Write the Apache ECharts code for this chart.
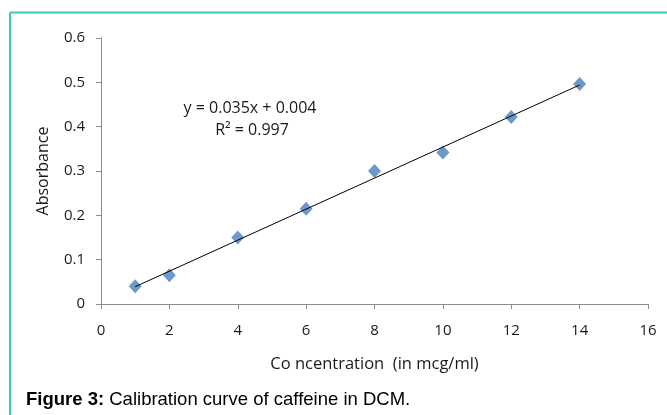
<!DOCTYPE html>
<html>
<head>
<meta charset="utf-8">
<script src="https://cdn.jsdelivr.net/npm/echarts@6/dist/echarts.min.js"></script>
<style>
html,body{margin:0;padding:0;background:#fff;}
#chart{width:667px;height:415px;}
</style>
</head>
<body>
<div id="chart"></div>
<script>
// Data
const concentration = [1, 2, 4, 6, 8, 10, 12, 14];
const absorbance = [0.040, 0.065, 0.150, 0.215, 0.300, 0.342, 0.422, 0.496];
const trendX = [1, 14];
const trendY = [0.039, 0.494];
const equationText = 'y = 0.035x + 0.004';
const r2Text = 'R\u00B2 = 0.997';
const xAxisTitle = 'Co ncentration  (in mcg/ml)';
const yAxisTitle = 'Absorbance';
const captionBold = 'Figure 3:';
const captionText = ' Calibration curve of caffeine in DCM.';

const chart = echarts.init(document.getElementById('chart'), null, {renderer: 'canvas'});
const font = '"Open Sans", Lato, sans-serif';
const axisColor = '#8c8c8c';
const textColor = '#1a1a1a';

const option = {
  animation: false,
  backgroundColor: '#ffffff',
  grid: {left: 101, right: 19, top: 38, bottom: 111, containLabel: false},
  xAxis: {
    type: 'value', min: 0, max: 16, interval: 2,
    name: xAxisTitle, nameLocation: 'middle', nameGap: 52,
    nameTextStyle: {fontFamily: font, fontSize: 16.5, color: textColor},
    axisLine: {lineStyle: {color: axisColor, width: 1}},
    axisTick: {show: true, inside: false, length: 5, lineStyle: {color: axisColor}},
    axisLabel: {margin: 19, fontFamily: font, fontSize: 15, color: textColor},
    splitLine: {show: false}
  },
  yAxis: {
    type: 'value', min: 0, max: 0.6, interval: 0.1,
    name: yAxisTitle, nameLocation: 'middle', nameGap: 50, nameRotate: 90,
    nameTextStyle: {fontFamily: font, fontSize: 16, color: textColor},
    axisLine: {show: true, lineStyle: {color: axisColor, width: 1}},
    axisTick: {show: true, inside: false, length: 5, lineStyle: {color: axisColor}},
    axisLabel: {margin: 16, fontFamily: font, fontSize: 15, color: textColor,
      formatter: v => (v === 0 ? '0' : v.toFixed(1))},
    splitLine: {show: false}
  },
  series: [
    {
      type: 'line', data: trendX.map((x, i) => [x, trendY[i]]),
      symbol: 'none', lineStyle: {color: '#000000', width: 1}, z: 3
    },
    {
      type: 'scatter', data: concentration.map((x, i) => [x, absorbance[i]]),
      symbol: 'diamond', symbolSize: [13, 14],
      itemStyle: {color: '#4a7ebb'}, z: 2
    }
  ],
  graphic: [
    {type: 'line', shape: {x1: 10, y1: 12.5, x2: 667, y2: 12.5}, style: {stroke: '#3ccbb3', lineWidth: 2}},
    {type: 'line', shape: {x1: 10, y1: 12.5, x2: 10, y2: 415}, style: {stroke: '#3ccbb3', lineWidth: 2}},
    {type: 'text', x: 250, y: 108, style: {text: equationText, fontFamily: font, fontSize: 16, fill: textColor, textAlign: 'center', textVerticalAlign: 'middle'}},
    {type: 'text', x: 252, y: 130, style: {text: r2Text, fontFamily: font, fontSize: 16, fill: textColor, textAlign: 'center', textVerticalAlign: 'middle'}},
    {type: 'text', x: 26, y: 400, style: {
      text: '{b|' + captionBold + '}{n|' + captionText + '}',
      textVerticalAlign: 'middle',
      rich: {
        b: {fontFamily: '"Liberation Sans", Arial, sans-serif', fontWeight: 'bold', fontSize: 18.5, color: '#333333'},
        n: {fontFamily: '"Liberation Sans", Arial, sans-serif', fontSize: 18.5, color: '#333333'}
      }
    }}
  ]
};
chart.setOption(option);
</script>
</body>
</html>
